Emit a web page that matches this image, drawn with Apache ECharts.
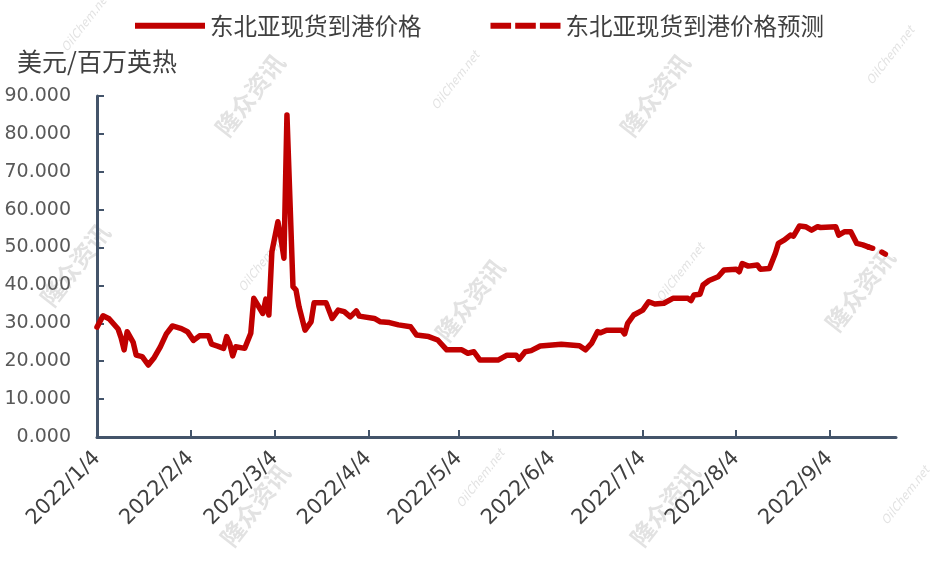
<!DOCTYPE html>
<html><head><meta charset="utf-8">
<script src="https://cdn.jsdelivr.net/npm/echarts@6/dist/echarts.min.js"></script>
<style>html,body{margin:0;padding:0;background:#fff}#c{width:940px;height:563px}</style>
</head><body><div id="c"></div>
<script>
const seriesNames = ['东北亚现货到港价格', '东北亚现货到港价格预测'];
const yAxisName = '美元/百万英热';
const actualDates = ['2022-01-04','2022-01-06','2022-01-08','2022-01-11','2022-01-12','2022-01-13','2022-01-14','2022-01-16','2022-01-17','2022-01-19','2022-01-21','2022-01-23','2022-01-25','2022-01-27','2022-01-29','2022-02-01','2022-02-03','2022-02-05','2022-02-07','2022-02-10','2022-02-11','2022-02-13','2022-02-15','2022-02-16','2022-02-17','2022-02-18','2022-02-19','2022-02-22','2022-02-24','2022-02-25','2022-02-28','2022-03-01','2022-03-02','2022-03-03','2022-03-05','2022-03-06','2022-03-07','2022-03-08','2022-03-10','2022-03-11','2022-03-12','2022-03-14','2022-03-16','2022-03-17','2022-03-21','2022-03-23','2022-03-25','2022-03-27','2022-03-29','2022-03-31','2022-04-01','2022-04-06','2022-04-08','2022-04-11','2022-04-14','2022-04-18','2022-04-20','2022-04-24','2022-04-27','2022-04-30','2022-05-05','2022-05-07','2022-05-09','2022-05-11','2022-05-17','2022-05-20','2022-05-23','2022-05-24','2022-05-26','2022-05-28','2022-05-31','2022-06-07','2022-06-13','2022-06-15','2022-06-17','2022-06-19','2022-06-20','2022-06-22','2022-06-27','2022-06-28','2022-06-29','2022-07-01','2022-07-04','2022-07-06','2022-07-08','2022-07-11','2022-07-14','2022-07-19','2022-07-20','2022-07-21','2022-07-23','2022-07-24','2022-07-26','2022-07-29','2022-07-31','2022-08-04','2022-08-05','2022-08-06','2022-08-08','2022-08-11','2022-08-12','2022-08-15','2022-08-17','2022-08-18','2022-08-20','2022-08-22','2022-08-23','2022-08-25','2022-08-27','2022-08-29','2022-08-31','2022-09-01','2022-09-06','2022-09-07','2022-09-09','2022-09-11','2022-09-13','2022-09-15','2022-09-17'];
const actualValues = [29.0,32.0,31.2,28.5,26.2,23.0,27.8,25.0,21.6,21.2,19.0,21.0,23.8,27.2,29.3,28.6,27.8,25.5,26.7,26.7,24.5,24.0,23.4,26.5,24.7,21.4,23.8,23.4,27.4,36.6,32.6,36.4,32.2,48.9,56.8,52.5,47.2,85.0,39.7,38.8,34.4,28.2,30.4,35.4,35.4,31.3,33.5,33.1,31.7,33.3,31.9,31.3,30.4,30.2,29.6,29.1,26.9,26.5,25.6,23.0,23.0,22.1,22.5,20.3,20.3,21.6,21.6,20.5,22.5,22.8,24.0,24.5,24.1,23.0,24.7,27.8,27.5,28.2,28.2,27.2,30.0,32.2,33.5,35.7,35.1,35.3,36.6,36.6,36.0,37.5,37.7,40.1,41.3,42.3,44.1,44.3,43.6,45.8,45.1,45.4,44.3,44.5,48.5,51.1,52.0,53.3,53.0,55.7,55.5,54.6,55.5,55.3,55.5,53.3,54.2,54.2,51.1,50.7,50.1];
const forecastDates = ['2022-09-17','2022-09-20','2022-09-24'];
const forecastValues = [50.1,49.4,47.6];
const tickDates = ['2022-01-04','2022-02-04','2022-03-04','2022-04-04','2022-05-04','2022-06-04','2022-07-04','2022-08-04','2022-09-04'];
const axisStart = '2022-01-04';
const axisEnd = '2022-09-26';

function ts(s) { const p = s.split('-').map(Number); return new Date(p[0], p[1] - 1, p[2]).getTime(); }
function fmt(v) { const d = new Date(v); return d.getFullYear() + '/' + (d.getMonth() + 1) + '/' + d.getDate(); }
const pairs = (ds, vs) => ds.map((d, i) => [ts(d), vs[i]]);
const tickTs = tickDates.map(ts);

const RED = '#c00000';
const AXIS = '#44546a';
const wm1 = '隆众资讯', wm2 = 'OilChem.net';
const wmList = [
  [wm1, 250, 95, 24], [wm1, 655, 95, 24], [wm1, 75, 265, 24], [wm1, 470, 300, 24], [wm1, 860, 290, 24],
  [wm1, 255, 505, 24], [wm1, 665, 505, 24],
  [wm2, 85, 22, 12], [wm2, 455, 80, 12], [wm2, 890, 55, 12], [wm2, 262, 262, 12], [wm2, 680, 272, 12],
  [wm2, 480, 478, 12], [wm2, 905, 495, 12]
];

const chart = echarts.init(document.getElementById('c'), null, { renderer: 'canvas' });
chart.setOption({
  animation: false,
  backgroundColor: '#ffffff',
  grid: { left: 97, right: 44, top: 96, bottom: 126, containLabel: false, outerBoundsMode: 'none' },
  legend: {
    left: 130, top: 9,
    itemWidth: 70, itemHeight: 10, itemGap: 69,
    textStyle: { fontFamily: 'Noto Sans CJK SC', fontSize: 23.5, color: '#404040' },
    data: [
      { name: seriesNames[0], icon: 'path://M0,0 L70,0 L70,6 L0,6 Z', itemStyle: { color: RED } },
      { name: seriesNames[1], icon: 'path://M0,0 L20,0 L20,6 L0,6 Z M24,0 L44,0 L44,6 L24,6 Z M48,0 L68,0 L68,6 L48,6 Z', itemStyle: { color: RED } }
    ]
  },
  xAxis: {
    type: 'value',
    min: ts(axisStart), max: ts(axisEnd),
    splitLine: { show: false },
    axisLine: { show: true, lineStyle: { color: AXIS, width: 3 } },
    axisTick: { show: true, inside: true, length: 7, customValues: tickTs, lineStyle: { color: AXIS, width: 2 } },
    axisLabel: {
      customValues: tickTs, rotate: 45, margin: 18,
      formatter: v => fmt(v),
      fontFamily: 'DejaVu Sans', fontSize: 21, color: '#404040'
    }
  },
  yAxis: {
    type: 'value', min: 0, max: 90, interval: 10,
    name: yAxisName, nameLocation: 'end', nameGap: 22,
    nameTextStyle: { fontFamily: 'Noto Sans CJK SC', fontSize: 25, color: '#404040', align: 'center' },
    splitLine: { show: false },
    axisLine: { show: true, lineStyle: { color: AXIS, width: 3 } },
    axisTick: { show: true, inside: true, length: 7, lineStyle: { color: AXIS, width: 2 } },
    axisLabel: { formatter: v => v.toFixed(3), margin: 26, fontFamily: 'DejaVu Sans', fontSize: 19, color: '#595959' }
  },
  graphic: wmList.map(w => ({
    type: 'text', x: w[1], y: w[2], rotation: 52 * Math.PI / 180, silent: true, z: -1,
    style: { text: w[0], fill: 'rgba(190,190,190,0.45)', font: (w[3] > 20 ? 'bold ' : 'italic ') + w[3] + 'px "Noto Sans CJK SC"', align: 'center', verticalAlign: 'middle' }
  })),
  series: [
    { name: seriesNames[0], type: 'line', data: pairs(actualDates, actualValues), symbol: 'none', lineStyle: { color: RED, width: 5.5, join: 'round', cap: 'round' }, itemStyle: { color: RED }, z: 3 },
    { name: seriesNames[1], type: 'line', data: pairs(forecastDates, forecastValues), symbol: 'none', lineStyle: { color: RED, width: 5.5, type: [4, 10], cap: 'round' }, itemStyle: { color: RED }, z: 3 }
  ]
});
</script></body></html>
